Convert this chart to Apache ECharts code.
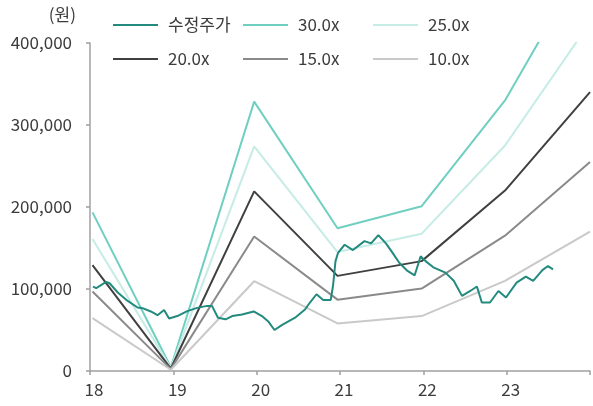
<!DOCTYPE html>
<html>
<head>
<meta charset="utf-8">
<script src="https://cdn.jsdelivr.net/npm/echarts@6/dist/echarts.min.js"></script>
<style>
  html, body { margin: 0; padding: 0; background: #fff; }
  #chart { width: 593px; height: 406px; }
</style>
</head>
<body>
<div id="chart"></div>
<script>
// Year ticks on the x axis (two-digit years)
const yearTicks = [18, 19, 20, 21, 22, 23];
const yTicks = [0, 100000, 200000, 300000, 400000];

// Time points (decimal years) where the PER band values are defined
const bandYears = [18.03, 18.97, 19.97, 20.97, 21.98, 22.98, 24.0];

// PER band values (원)
const per30 = [193500, 4500, 328500, 174000, 201000, 330000, 510000];
const per25 = [161000, 3800, 274000, 145000, 167500, 275000, 425000];
const per20 = [129000, 3000, 219000, 116000, 134000, 220000, 340000];
const per15 = [97000, 2300, 164000, 87000, 100500, 165000, 255000];
const per10 = [64500, 1500, 109500, 58000, 67000, 110000, 170000];

// Adjusted share price (수정주가) sampled through time
const priceYears = [
  18.036, 18.075, 18.194, 18.235, 18.333, 18.452, 18.571, 18.631, 18.73, 18.81,
  18.889, 18.949, 19.048, 19.167, 19.286, 19.405, 19.464, 19.536, 19.627, 19.706,
  19.825, 19.964, 20.063, 20.143, 20.214, 20.301, 20.461, 20.58, 20.639, 20.718,
  20.798, 20.889, 20.917, 20.946, 20.976, 21.056, 21.155, 21.294, 21.373, 21.46,
  21.551, 21.631, 21.711, 21.81, 21.896, 21.968, 22.027, 22.127, 22.265, 22.365,
  22.464, 22.563, 22.643, 22.702, 22.8, 22.901, 22.992, 23.119, 23.23, 23.318,
  23.429, 23.496, 23.556
];
const priceValues = [
  103000, 101000, 108600, 107000, 95700, 85500, 77400, 76600, 72600, 68000,
  74500, 64000, 67000, 73000, 77000, 79400, 79400, 65000, 63000, 67000,
  69000, 72600, 67000, 60000, 50000, 56000, 65000, 75000, 83500, 93600,
  86700, 86700, 104600, 134000, 144000, 154000, 147500, 158400, 155600, 165700,
  155600, 144000, 132000, 122000, 116700, 140000, 134000, 126000, 120000, 110000,
  91600, 97600, 103000, 83500, 83500, 97600, 89600, 107800, 115000, 110000,
  123000, 128000, 124000
];

const zip = (xs, ys) => xs.map((x, i) => [x, ys[i]]);

const FONT = '"Noto Sans CJK KR", "Noto Sans", sans-serif';
const TEXT = '#3c3c3c';

const bandLine = (name, values, color) => ({
  name,
  type: 'line',
  data: zip(bandYears, values),
  symbol: 'none',
  clip: true,
  lineStyle: { color, width: 2 },
  itemStyle: { color },
  z: 2
});

const series = [
  {
    name: '수정주가',
    type: 'line',
    data: zip(priceYears, priceValues),
    symbol: 'none',
    lineStyle: { color: '#238a7e', width: 2 },
    itemStyle: { color: '#238a7e' },
    z: 5
  },
  bandLine('30.0x', per30, '#6fcfc1'),
  bandLine('25.0x', per25, '#c6ece6'),
  bandLine('20.0x', per20, '#404040'),
  bandLine('15.0x', per15, '#8a8a8a'),
  bandLine('10.0x', per10, '#c9c9c9')
];

// One legend column per pair of entries; plain line swatches
const legendCol = (left, names) => ({
  orient: 'vertical',
  left,
  top: 10,
  icon: 'rect',
  itemWidth: 45,
  itemHeight: 2,
  itemGap: 14,
  data: names,
  textStyle: {
    fontFamily: FONT, fontSize: 17, color: TEXT,
    lineHeight: 20, padding: [0, 0, 0, 5]
  }
});

const chart = echarts.init(document.getElementById('chart'), null, { renderer: 'canvas' });
chart.setOption({
  animation: false,
  backgroundColor: '#fff',
  textStyle: { fontFamily: FONT },
  grid: { left: 90, right: 0, top: 43, bottom: 35, containLabel: false },
  legend: [
    legendCol(108, ['수정주가', '20.0x']),
    legendCol(238, ['30.0x', '15.0x']),
    legendCol(368, ['25.0x', '10.0x'])
  ],
  xAxis: {
    type: 'value',
    min: yearTicks[0],
    max: 24,
    interval: 1,
    splitLine: { show: false },
    axisLine: { lineStyle: { color: '#a0a0a0', width: 1.5 } },
    axisTick: { show: true, length: 4, lineStyle: { color: '#a0a0a0', width: 1.5 } },
    axisLabel: {
      margin: 10,
      fontSize: 17,
      color: TEXT,
      fontFamily: FONT,
      padding: [0, 0, 0, 8],
      formatter: v => (yearTicks.includes(v) ? String(v) : '')
    }
  },
  yAxis: {
    type: 'value',
    min: yTicks[0],
    max: yTicks[yTicks.length - 1],
    interval: 100000,
    name: '(원)',
    nameLocation: 'end',
    nameGap: 28,
    nameTextStyle: {
      fontFamily: FONT, fontSize: 17, color: TEXT,
      align: 'right', verticalAlign: 'middle', padding: [0, 14, 0, 0]
    },
    splitLine: { show: false },
    axisLine: { show: true, lineStyle: { color: '#a0a0a0', width: 1.5 } },
    axisTick: { show: true, length: 4, lineStyle: { color: '#a0a0a0', width: 1.5 } },
    axisLabel: {
      margin: 18,
      fontSize: 17,
      color: TEXT,
      fontFamily: FONT,
      formatter: v => v.toLocaleString('en-US')
    }
  },
  series
});
</script>
</body>
</html>
